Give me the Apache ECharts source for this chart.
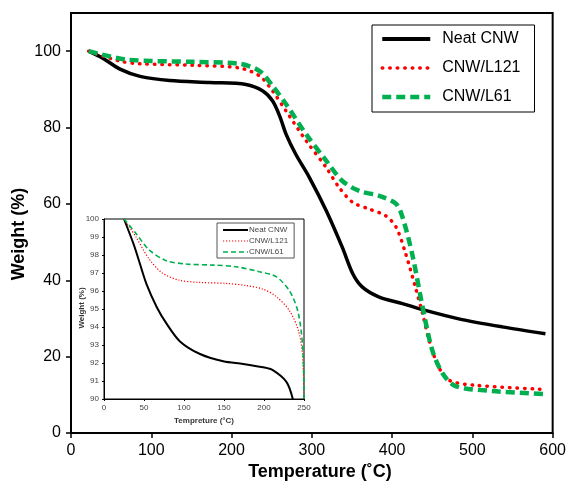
<!DOCTYPE html>
<html>
<head>
<meta charset="utf-8">
<script src="https://cdn.jsdelivr.net/npm/echarts@6/dist/echarts.min.js"></script>
<style>
html,body{margin:0;padding:0;background:#fff;}
#chart{width:569px;height:482px;}
</style>
</head>
<body>
<div id="chart"></div>
<script>
// ---- Main chart data (Temperature °C, Weight %) ----
var seriesNames = ['Neat CNW', 'CNW/L121', 'CNW/L61'];

var tempNeat   = [22, 40, 61, 86, 123, 173, 218, 239, 251, 260, 268, 280, 297, 318, 338, 351, 363, 384, 413, 438, 483, 537, 591];
var weightNeat = [100, 98.1, 95.3, 93.4, 92.3, 91.8, 91.3, 89.6, 87.0, 83.0, 78.2, 73.0, 66.9, 58.2, 48.6, 41.7, 38.2, 35.6, 33.9, 32.3, 29.9, 27.8, 26.0];

var tempL121   = [22, 61, 86, 152, 210, 235, 251, 268, 293, 318, 334, 351, 371, 392, 405, 417, 429, 438, 446, 458, 471, 504, 591];
var weightL121 = [100, 97.4, 96.7, 96.3, 95.6, 93.5, 89.6, 84.3, 76.5, 69.5, 64.3, 60.4, 58.7, 56.9, 53.9, 46.9, 38.2, 31.2, 24.3, 17.3, 13.8, 12.5, 11.4];

var tempL61    = [22, 69, 152, 210, 235, 251, 268, 293, 318, 338, 359, 384, 405, 413, 425, 438, 450, 463, 479, 525, 591];
var weightL61  = [100, 97.8, 97.2, 96.7, 94.8, 90.9, 86.1, 78.2, 71.3, 66.0, 63.4, 62.1, 60.0, 56.5, 46.9, 33.0, 21.7, 15.6, 12.3, 11.0, 10.2];

var mainXTicks = [0, 100, 200, 300, 400, 500, 600];
var mainYTicks = [0, 20, 40, 60, 80, 100];

// ---- Inset data ----
var insetTempNeat   = [25, 37, 45, 53, 66, 78, 95, 120, 149, 174, 199, 211, 228, 236, 245];
var insetWeightNeat = [100, 98.6, 97.5, 96.4, 95.1, 94.2, 93.2, 92.5, 92.1, 91.95, 91.76, 91.6, 90.95, 90.0, 88.0];

var insetTempL121   = [25, 40, 56, 73, 94, 119, 153, 178, 199, 215, 232, 243, 248, 250];
var insetWeightL121 = [100, 99.0, 97.8, 97.0, 96.6, 96.48, 96.42, 96.3, 96.1, 95.7, 94.9, 93.8, 92.5, 90.0];

var insetTempL61    = [25, 40, 56, 77, 102, 136, 165, 194, 215, 232, 243, 249, 250];
var insetWeightL61  = [100, 99.2, 98.3, 97.7, 97.5, 97.44, 97.35, 97.07, 96.8, 96.0, 94.75, 92.5, 90.0];

function zip(xs, ys) { return xs.map(function (x, i) { return [x, ys[i]]; }); }

var FONT = 'Liberation Sans, Arial, sans-serif';
var RED = '#ff0000', GREEN = '#00b050', BLACK = '#000000';

var mainStyles = [
  {color: BLACK, width: 3.5, type: 'solid'},
  {color: RED, width: 3.5, type: [0.5, 7], cap: 'round'},
  {color: GREEN, width: 4.5, type: [9, 5]}
];
var insetStyles = [
  {color: BLACK, width: 2, type: 'solid'},
  {color: RED, width: 1.2, type: [1.2, 1.8]},
  {color: GREEN, width: 1.6, type: [5, 3]}
];

var chart = echarts.init(document.getElementById('chart'), null, {renderer: 'canvas'});

var option = {
  backgroundColor: '#ffffff',
  animation: false,
  grid: [
    {left: 71, right: 15, top: 13, bottom: 49, show: true, borderColor: '#000', borderWidth: 2, containLabel: false},
    {left: 104, top: 219, width: 200, height: 180, show: true, borderColor: '#000', borderWidth: 1, containLabel: false}
  ],
  xAxis: [
    {type: 'value', gridIndex: 0, min: 0, max: 600, interval: 100,
     axisLine: {show: true, lineStyle: {color: '#000', width: 2}},
     axisTick: {show: true, inside: false, length: 5, lineStyle: {color: '#000', width: 1.5}},
     axisLabel: {margin: 10, fontSize: 16, color: '#000', fontFamily: FONT},
     splitLine: {show: false}},
    {type: 'value', gridIndex: 1, min: 0, max: 250, interval: 50,
     axisLine: {show: true, lineStyle: {color: '#000', width: 1}},
     axisTick: {show: true, inside: false, length: 2, lineStyle: {color: '#000', width: 1}},
     axisLabel: {margin: 5, fontSize: 8, color: '#444', fontFamily: FONT},
     splitLine: {show: false}}
  ],
  yAxis: [
    {type: 'value', gridIndex: 0, min: 0, max: 110, interval: 20,
     axisLine: {show: true, lineStyle: {color: '#000', width: 2}},
     axisTick: {show: true, inside: false, length: 5, customValues: mainYTicks, lineStyle: {color: '#000', width: 1.5}},
     axisLabel: {margin: 10, fontSize: 16, color: '#000', fontFamily: FONT, customValues: mainYTicks,
                 formatter: function (v) { return v > 100 ? '' : String(v); }},
     splitLine: {show: false}},
    {type: 'value', gridIndex: 1, min: 90, max: 100, interval: 1,
     axisLine: {show: true, lineStyle: {color: '#000', width: 1}},
     axisTick: {show: true, inside: false, length: 2, lineStyle: {color: '#000', width: 1}},
     axisLabel: {margin: 5, fontSize: 8, color: '#444', fontFamily: FONT},
     splitLine: {show: false}}
  ],
  legend: [
    {data: seriesNames.map(function (n, i) {
        var s = mainStyles[i];
        return {name: n, lineStyle: {color: s.color, width: i === 0 ? 4 : s.width, type: s.type, cap: s.cap || 'butt'}};
     }),
     orient: 'vertical', left: 372, top: 25,
     itemWidth: 48, itemHeight: 14, itemGap: 13,
     padding: [6, 14, 7, 8],
     borderColor: '#000', borderWidth: 1, backgroundColor: '#fff',
     selectedMode: false,
     itemStyle: {opacity: 0},
     textStyle: {fontSize: 16, color: '#000', fontFamily: FONT, padding: [0, 0, 0, 7]}},
    {data: seriesNames.map(function (n, i) {
        var s = insetStyles[i];
        return {name: n + ' ', lineStyle: {color: s.color, width: s.width, type: s.type}};
     }),
     orient: 'vertical', left: 217, top: 223,
     itemWidth: 25, itemHeight: 8, itemGap: 3,
     padding: [3, 6, 2, 5],
     borderColor: '#555', borderWidth: 1, backgroundColor: '#fff',
     selectedMode: false,
     itemStyle: {opacity: 0},
     formatter: function (n) { return n.trim(); },
     textStyle: {fontSize: 8, color: '#444', fontFamily: FONT, padding: [0, 0, 0, -4]}}
  ],
  graphic: [
    {type: 'text', x: 320, y: 472, style: {text: 'Temperature (\u02DAC)', font: 'bold 18px ' + FONT, fill: '#000', align: 'center', verticalAlign: 'middle'}},
    {type: 'text', x: 19, y: 234, rotation: Math.PI / 2, style: {text: 'Weight (%)', font: 'bold 18px ' + FONT, fill: '#000', align: 'center', verticalAlign: 'middle'}},
    {type: 'text', x: 204, y: 421, style: {text: 'Tempreture (\u00B0C)', font: 'bold 8px ' + FONT, fill: '#333', align: 'center', verticalAlign: 'middle'}},
    {type: 'text', x: 82, y: 308, rotation: Math.PI / 2, style: {text: 'Weight (%)', font: 'bold 8px ' + FONT, fill: '#333', align: 'center', verticalAlign: 'middle'}}
  ],
  series: [
    {name: 'Neat CNW', type: 'line', xAxisIndex: 0, yAxisIndex: 0, data: zip(tempNeat, weightNeat),
     symbol: 'none', smooth: 0.3, lineStyle: mainStyles[0], itemStyle: {color: BLACK}},
    {name: 'CNW/L121', type: 'line', xAxisIndex: 0, yAxisIndex: 0, data: zip(tempL121, weightL121),
     symbol: 'none', smooth: 0.3, lineStyle: mainStyles[1], itemStyle: {color: RED}},
    {name: 'CNW/L61', type: 'line', xAxisIndex: 0, yAxisIndex: 0, data: zip(tempL61, weightL61),
     symbol: 'none', smooth: 0.3, lineStyle: mainStyles[2], itemStyle: {color: GREEN}},

    {name: 'Neat CNW ', type: 'line', xAxisIndex: 1, yAxisIndex: 1, data: zip(insetTempNeat, insetWeightNeat),
     symbol: 'none', smooth: 0.3, clip: true, lineStyle: insetStyles[0], itemStyle: {color: BLACK}},
    {name: 'CNW/L121 ', type: 'line', xAxisIndex: 1, yAxisIndex: 1, data: zip(insetTempL121, insetWeightL121),
     symbol: 'none', smooth: 0.3, clip: true, lineStyle: insetStyles[1], itemStyle: {color: RED}},
    {name: 'CNW/L61 ', type: 'line', xAxisIndex: 1, yAxisIndex: 1, data: zip(insetTempL61, insetWeightL61),
     symbol: 'none', smooth: 0.3, clip: true, lineStyle: insetStyles[2], itemStyle: {color: GREEN}}
  ]
};
chart.setOption(option);
</script>
</body>
</html>
